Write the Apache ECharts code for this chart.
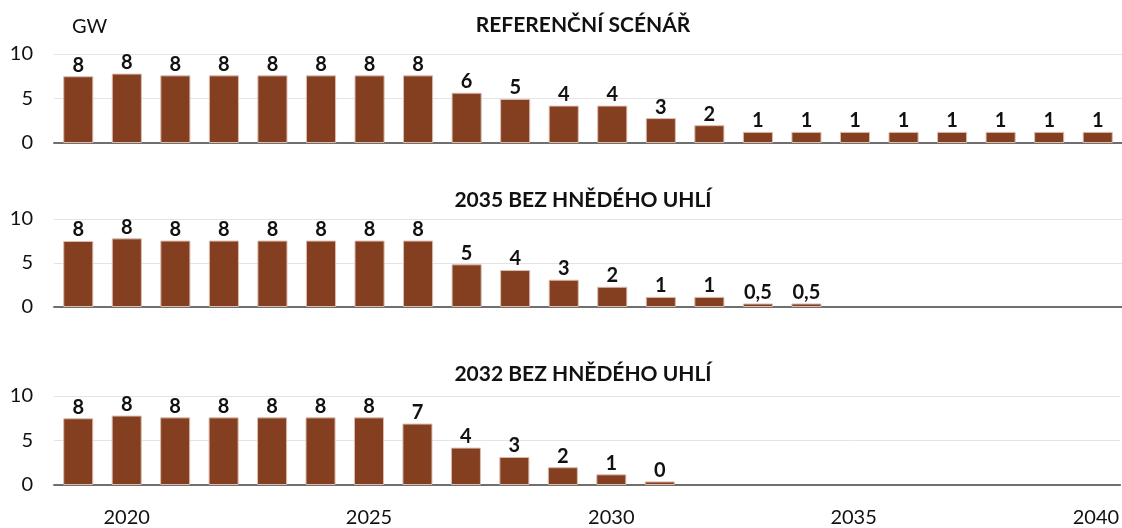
<!DOCTYPE html>
<html style="height: 100%">
<head>
<meta charset="utf-8">
</head>
<body style="height: 100%; margin: 0; background: #fff">
<div id="container" style="width: 1122px; height: 528px"></div>
<script type="text/javascript" src="https://cdn.jsdelivr.net/npm/echarts@6/dist/echarts.min.js"></script>
<script type="text/javascript">
// roky 2019 - 2040
var years = ['2019','2020','2021','2022','2023','2024','2025','2026','2027','2028','2029',
             '2030','2031','2032','2033','2034','2035','2036','2037','2038','2039','2040'];

var titles = ['REFERENČNÍ SCÉNÁŘ', '2035 BEZ HNĚDÉHO UHLÍ', '2032 BEZ HNĚDÉHO UHLÍ'];

// instalovany vykon, GW
var refValues = [7.5, 7.8, 7.6, 7.6, 7.6, 7.6, 7.6, 7.6, 5.65, 4.95, 4.2, 4.2, 2.8, 2.0,
                 1.25, 1.25, 1.25, 1.25, 1.25, 1.25, 1.25, 1.25];
var bez2035Values = [7.5, 7.8, 7.55, 7.55, 7.55, 7.55, 7.55, 7.55, 4.85, 4.2, 3.1, 2.3, 1.15, 1.15,
                     0.4, 0.4, null, null, null, null, null, null];
var bez2032Values = [7.5, 7.8, 7.6, 7.6, 7.6, 7.6, 7.6, 6.9, 4.2, 3.15, 2.0, 1.2, 0.4,
                     null, null, null, null, null, null, null, null, null];

// popisky nad sloupci
var refLabels = ['8','8','8','8','8','8','8','8','6','5','4','4','3','2','1','1','1','1','1','1','1','1'];
var bez2035Labels = ['8','8','8','8','8','8','8','8','5','4','3','2','1','1','0,5','0,5'];
var bez2032Labels = ['8','8','8','8','8','8','8','7','4','3','2','1','0'];

var yTicks = [0, 5, 10];

var font = 'Lato, "Open Sans", sans-serif';
var brown = '#843f20';

var dom = document.getElementById('container');
var myChart = echarts.init(dom);

var grids = [
    {left: 54, width: 1071, top: 54, height: 89},
    {left: 54, width: 1071, top: 219, height: 88},
    {left: 54, width: 1071, top: 396, height: 92}
];

function series(values, labels, i) {
    return {
        type: 'bar',
        xAxisIndex: i,
        yAxisIndex: i,
        data: values,
        barCategoryGap: '38%',
        itemStyle: {color: brown, borderColor: '#dcbcae', borderWidth: 1},
        label: {
            show: true,
            position: 'top',
            distance: 1,
            fontFamily: font,
            fontWeight: 'bold',
            fontSize: 20,
            color: '#111',
            formatter: function (p) { return labels[p.dataIndex]; }
        },
        animation: false
    };
}

var xAxes = [], yAxes = [];
for (var i = 0; i < 3; i++) {
    xAxes.push({
        type: 'category',
        gridIndex: i,
        data: years,
        axisTick: {show: false},
        axisLine: {lineStyle: {color: '#6f6f6f', width: 2}},
        axisLabel: {
            show: i === 2,
            interval: function (idx, val) { return parseInt(val) % 5 === 0; },
            fontFamily: font,
            fontSize: 20,
            color: '#111',
            margin: 23
        }
    });
    yAxes.push({
        type: 'value',
        gridIndex: i,
        min: yTicks[0],
        max: yTicks[yTicks.length - 1],
        interval: 5,
        axisLabel: {fontFamily: font, fontSize: 20, color: '#111', margin: 21},
        splitLine: {lineStyle: {color: '#e4e4e4'}}
    });
}

var titleStyle = {fontFamily: font, fontSize: 21, fontWeight: 'bold', color: '#111'};

var option = {
    backgroundColor: '#fff',
    title: [
        {text: titles[0], left: 578, top: 10, textAlign: 'center', textStyle: titleStyle},
        {text: titles[1], left: 578, top: 185, textAlign: 'center', textStyle: titleStyle},
        {text: titles[2], left: 578, top: 359, textAlign: 'center', textStyle: titleStyle},
        {text: 'GW', left: 67, top: 12,
         textStyle: {fontFamily: font, fontSize: 20, fontWeight: 'normal', color: '#111'}}
    ],
    grid: grids,
    xAxis: xAxes,
    yAxis: yAxes,
    series: [
        series(refValues, refLabels, 0),
        series(bez2035Values, bez2035Labels, 1),
        series(bez2032Values, bez2032Labels, 2)
    ]
};

myChart.setOption(option);
window.onresize = myChart.resize;
</script>
</body>
</html>
